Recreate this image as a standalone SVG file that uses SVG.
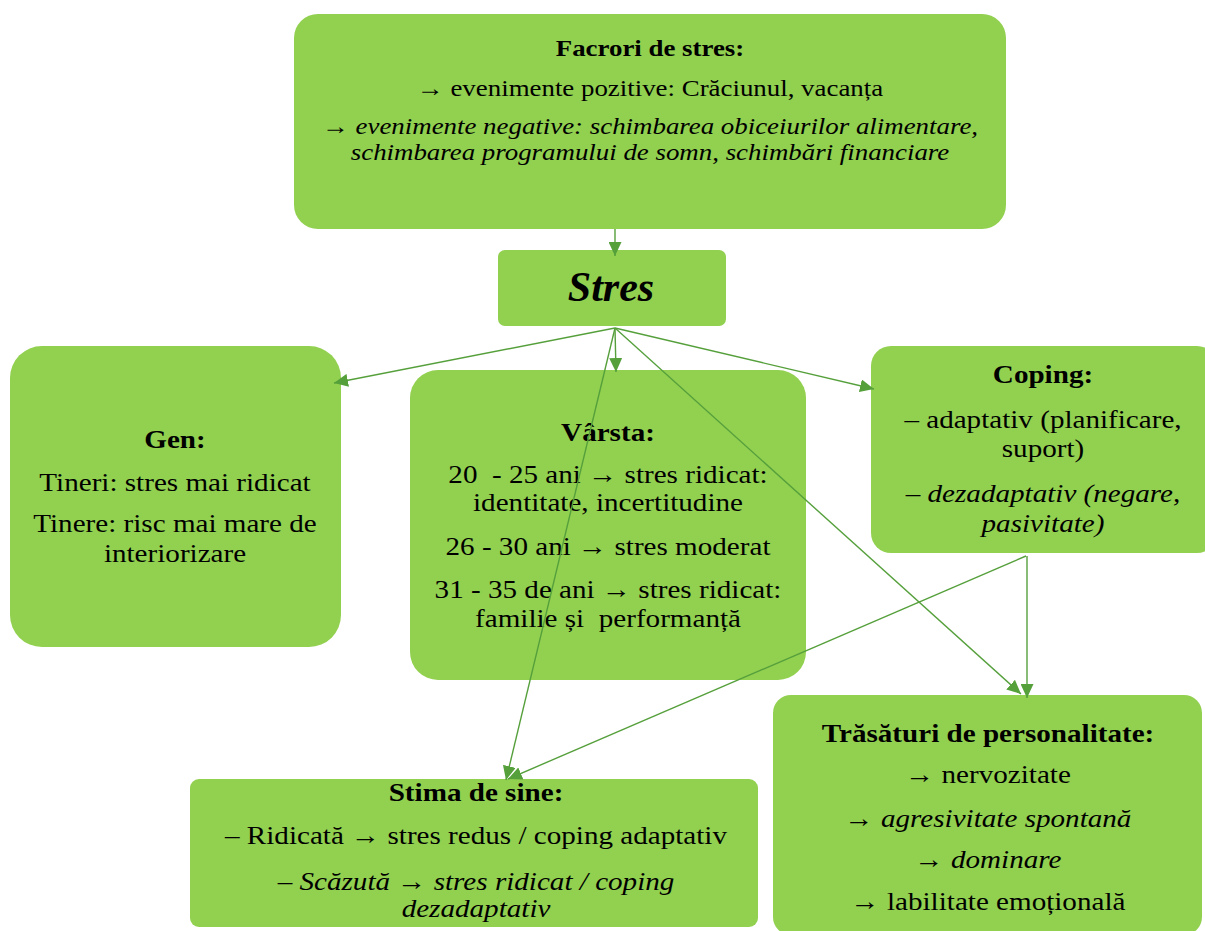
<svg xmlns="http://www.w3.org/2000/svg" width="1205" height="931" viewBox="0 0 1205 931">
<defs>
<style>
.box{fill:#92D050;}
.t{font-family:"Liberation Serif","Times New Roman",serif;font-size:26px;fill:#000;text-anchor:middle;}
.s{font-size:24px;}
.b{font-weight:bold;}
.i{font-style:italic;}
.ar{font-style:normal;font-weight:normal;}
.c{fill:none;stroke:#56A03C;stroke-width:1.4;marker-end:url(#ah);}
</style>
<marker id="ah" markerUnits="userSpaceOnUse" markerWidth="15" markerHeight="13" refX="14" refY="6.5" orient="auto">
<path d="M0,0 L14,6.5 L0,13 z" fill="#55A03A"/>
</marker>
</defs>
<rect width="1205" height="931" fill="#fff"/>

<g id="factori">
<rect class="box" x="294" y="14" width="712" height="215" rx="24"/>
<g transform="translate(650 0) scale(1.12 1)">
<text class="t s b" x="0" y="56">Facrori de stres:</text>
<text class="t s" x="0" y="96"><tspan class="ar">→</tspan> evenimente pozitive: Crăciunul, vacanța</text>
<text class="t s i" x="0" y="134"><tspan class="ar">→</tspan> evenimente negative: schimbarea obiceiurilor alimentare,</text>
<text class="t s i" x="0" y="160">schimbarea programului de somn, schimbări financiare</text>
</g>
</g>

<g id="stres">
<rect class="box" x="498" y="250" width="228" height="76" rx="7"/>
<text class="t b i" x="611" y="301" style="font-size:42px">Stres</text>
</g>

<g id="gen">
<rect class="box" x="10" y="346" width="331" height="301" rx="32"/>
<g transform="translate(175 0) scale(1.12 1)">
<text class="t b" x="0" y="448">Gen:</text>
<text class="t" x="0" y="491">Tineri: stres mai ridicat</text>
<text class="t" x="0" y="532">Tinere: risc mai mare de</text>
<text class="t" x="0" y="562">interiorizare</text>
</g>
</g>

<g id="varsta">
<rect class="box" x="410" y="370" width="396" height="310" rx="28"/>
<g transform="translate(608 0) scale(1.12 1)">
<text class="t b" x="0" y="441">Vârsta:</text>
<text class="t" x="0" y="483" xml:space="preserve">20  - 25 ani → stres ridicat:</text>
<text class="t" x="0" y="511">identitate, incertitudine</text>
<text class="t" x="0" y="555">26 - 30 ani → stres moderat</text>
<text class="t" x="0" y="598">31 - 35 de ani → stres ridicat:</text>
<text class="t" x="0" y="627" xml:space="preserve">familie și  performanță</text>
</g>
</g>

<g id="coping">
<rect class="box" x="871" y="346" width="346" height="207" rx="20"/>
<g transform="translate(1043 0) scale(1.12 1)">
<text class="t b" x="0" y="383">Coping:</text>
<text class="t" x="0" y="428">– adaptativ (planificare,</text>
<text class="t" x="0" y="457">suport)</text>
<text class="t i" x="0" y="502">– dezadaptativ (negare,</text>
<text class="t i" x="0" y="532">pasivitate)</text>
</g>
</g>

<g id="stima">
<rect class="box" x="190" y="779" width="568" height="148" rx="9"/>
<g transform="translate(476 0) scale(1.12 1)">
<text class="t b" x="0" y="801">Stima de sine:</text>
<text class="t" x="0" y="844">– Ridicată → stres redus / coping adaptativ</text>
<text class="t i" x="0" y="890">– Scăzută <tspan class="ar">→</tspan> stres ridicat / coping</text>
<text class="t i" x="0" y="917">dezadaptativ</text>
</g>
</g>

<g id="trasaturi">
<rect class="box" x="773" y="695" width="429" height="240" rx="18"/>
<g transform="translate(988 0) scale(1.12 1)">
<text class="t b" x="0" y="742">Trăsături de personalitate:</text>
<text class="t" x="0" y="783">→ nervozitate</text>
<text class="t" x="0" y="827">→ <tspan class="i">agresivitate spontană</tspan></text>
<text class="t" x="0" y="868">→ <tspan class="i">dominare</tspan></text>
<text class="t" x="0" y="910">→ labilitate emoțională</text>
</g>
</g>

<g id="connectors">
<line class="c" x1="615" y1="229" x2="615" y2="256"/>
<line class="c" x1="615" y1="328" x2="334" y2="383"/>
<line class="c" x1="615" y1="328" x2="616" y2="372"/>
<line class="c" x1="615" y1="328" x2="874" y2="389"/>
<line class="c" x1="615" y1="328" x2="506" y2="780"/>
<line class="c" x1="615" y1="328" x2="1021" y2="694"/>
<line class="c" x1="1026" y1="556" x2="508" y2="779"/>
<line class="c" x1="1027" y1="556" x2="1027" y2="698"/>
</g>
</svg>
